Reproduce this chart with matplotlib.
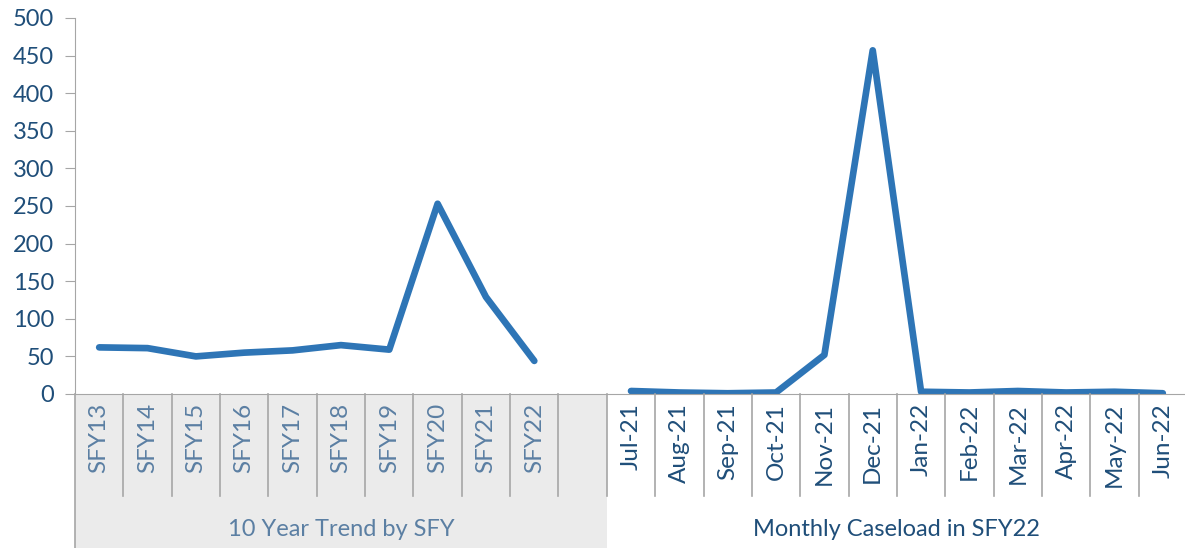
import matplotlib
matplotlib.use("Agg")
import matplotlib.pyplot as plt
from matplotlib.lines import Line2D
from matplotlib.patches import Rectangle

plt.rcParams['font.family'] = ['Lato', 'DejaVu Sans']

# data
sfy_labels = ['SFY13', 'SFY14', 'SFY15', 'SFY16', 'SFY17', 'SFY18', 'SFY19', 'SFY20', 'SFY21', 'SFY22']
sfy_values = [62, 61, 50, 55, 58, 65, 59, 253, 129, 44]
month_labels = ['Jul-21', 'Aug-21', 'Sep-21', 'Oct-21', 'Nov-21', 'Dec-21',
                'Jan-22', 'Feb-22', 'Mar-22', 'Apr-22', 'May-22', 'Jun-22']
month_values = [4, 2, 1, 2, 52, 457, 3, 2, 4, 2, 3, 1]
group_labels = ['10 Year Trend by SFY', 'Monthly Caseload in SFY22']
y_ticks = [0, 50, 100, 150, 200, 250, 300, 350, 400, 450, 500]

line_color = '#2E75B6'
dark_blue = '#1F4E79'
soft_blue = '#5B7FA3'
grid_gray = '#A6A6A6'
band_gray = '#EBEBEB'

W, H = 1185, 548
fig = plt.figure(figsize=(W / 100, H / 100), dpi=100)
left, right, top, bottom = 75, 1187, 18, 394
ax = fig.add_axes([left / W, 1 - bottom / H, (right - left) / W, (bottom - top) / H])

n_sfy = len(sfy_labels)
x_sfy = list(range(n_sfy))
x_month = [n_sfy + 1 + i for i in range(len(month_labels))]
n_total = n_sfy + 1 + len(month_labels)

ax.plot(x_sfy, sfy_values, color=line_color, lw=4.8, solid_capstyle='round', solid_joinstyle='round')
ax.plot(x_month, month_values, color=line_color, lw=4.8, solid_capstyle='round', solid_joinstyle='round')

ax.set_xlim(-0.5, n_total - 0.5)
ax.set_ylim(0, 500)
ax.set_yticks(y_ticks)
ax.tick_params(axis='y', length=7, color=grid_gray, labelcolor=dark_blue, labelsize=17, pad=8)
ax.set_xticks([])
for s in ['top', 'right']:
    ax.spines[s].set_visible(False)
ax.spines['left'].set_color(grid_gray)
ax.spines['bottom'].set_color(grid_gray)

trans = ax.get_xaxis_transform()
ph = bottom - top
y_sep = -(496 - bottom) / ph
y_bot = -(H - bottom) / ph
y_tick_lab = -(403 - bottom) / ph
y_group = -(530 - bottom) / ph

# grey band behind the yearly group
ax.add_patch(Rectangle((-0.5, y_bot), n_sfy + 1, -y_bot, transform=trans,
                       facecolor=band_gray, edgecolor='none', clip_on=False, zorder=0))

# category separators
for i in range(1, n_total + 1):
    ax.add_line(Line2D([i - 0.5, i - 0.5], [0, y_sep], transform=trans, color=grid_gray,
                       lw=1.2, clip_on=False))
ax.add_line(Line2D([-0.5, -0.5], [0, y_bot], transform=trans, color=grid_gray, lw=1.2, clip_on=False))

for x, lab in zip(x_sfy, sfy_labels):
    ax.text(x, y_tick_lab, lab, transform=trans, rotation=90, ha='center', va='top',
            fontsize=17.5, color=soft_blue)
for x, lab in zip(x_month, month_labels):
    ax.text(x, y_tick_lab, lab, transform=trans, rotation=90, ha='center', va='top',
            fontsize=17.5, color=dark_blue)

ax.text((n_sfy + 1) / 2 - 0.5, y_group, group_labels[0], transform=trans, ha='center', va='center',
        fontsize=17, color=soft_blue)
ax.text((n_sfy + 1 + n_total) / 2 - 0.5, y_group, group_labels[1], transform=trans, ha='center',
        va='center', fontsize=17, color=dark_blue)

fig.savefig('out.png', dpi=100)
